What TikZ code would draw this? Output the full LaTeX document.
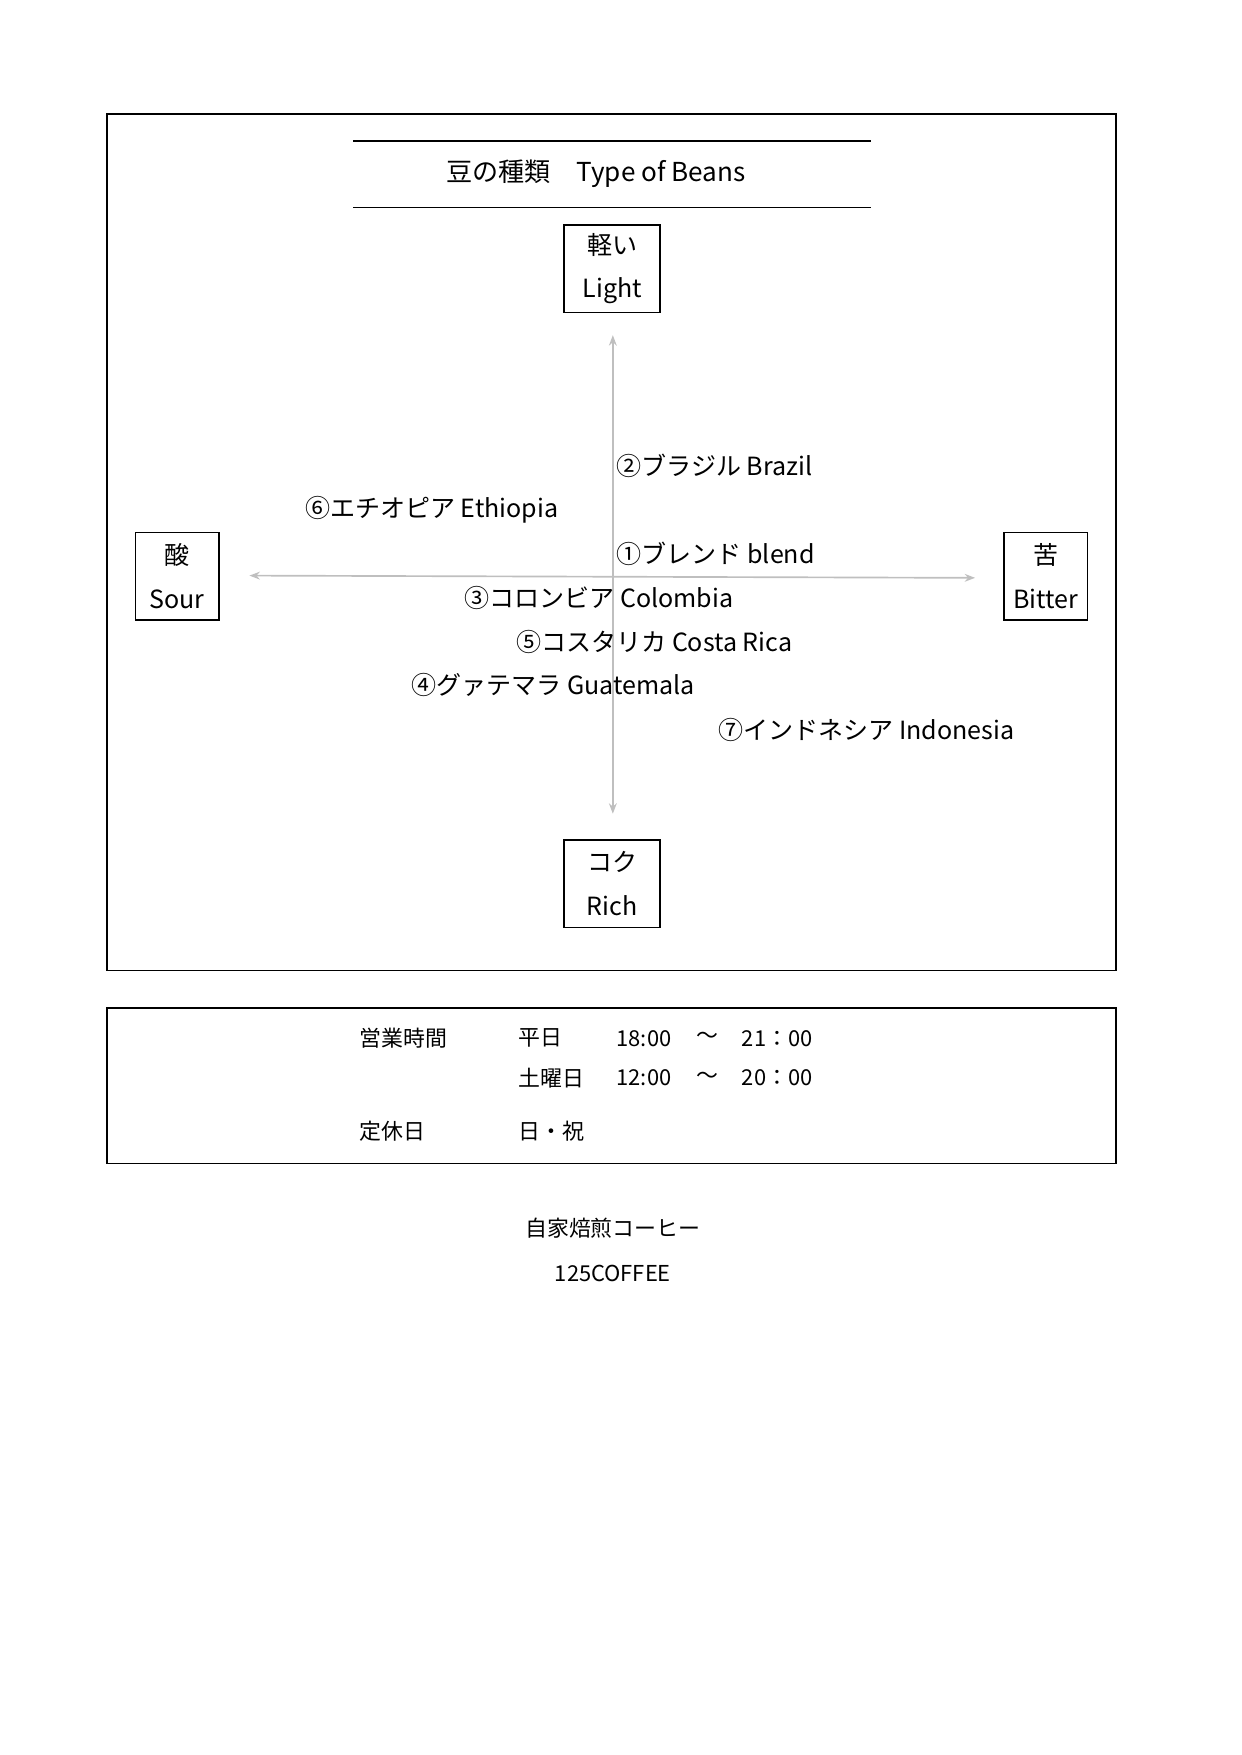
\documentclass[tikz,border=0pt]{standalone}
\usepackage{fontspec}
\setmainfont{Noto Sans CJK JP}
\usetikzlibrary{arrows.meta}
\tikzset{
  axisbox/.style={draw,thick,minimum width=46pt,minimum height=42pt,align=center,inner sep=1pt,font=\fontsize{12}{21}\selectfont},
  bean/.style={anchor=west,inner sep=0pt,font=\fontsize{12}{14}\selectfont},
  info/.style={anchor=west,inner sep=0pt,font=\fontsize{10.5}{12}\selectfont},
  axis/.style={draw=black!25,thick,{Stealth[length=5pt]}-{Stealth[length=5pt]}}
}
\begin{document}
\begin{tikzpicture}[x=0.541pt,y=-0.541pt]
    \useasboundingbox (0,0) rectangle (1100,1555);
    % frames
    \draw[thick] (95,101) rectangle (989,860);
    \draw[thick] (95,893) rectangle (989,1031);
    \draw[thick] (313,125) -- (772,125);
    \draw[thick] (313,184) -- (772,184);
    \node[font=\fontsize{12.5}{14}\selectfont] (title) at (528,154) {豆の種類　Type of Beans};
    % axis boxes
    \node[axisbox] (light) at (542.5,238) {軽い\\Light};
    \node[axisbox] (rich) at (542.5,783) {コク\\Rich};
    \node[axisbox,minimum width=40pt] (sour) at (157,510.5) {酸\\Sour};
    \node[axisbox,minimum width=40pt] (bitter) at (926.5,510.5) {苦\\Bitter};
    \coordinate (top) at (543,297);
    \coordinate (bottom) at (543,721);
    \coordinate (left) at (221,510);
    \coordinate (right) at (864,512);
    \draw[axis] (top) -- (bottom);
    \draw[axis] (left) -- (right);
    % beans
    \node[bean] (brazil) at (546,413) {②ブラジル Brazil};
    \node[bean] (ethiopia) at (270,452) {⑥エチオピア Ethiopia};
    \node[bean] (blend) at (546,491) {①ブレンド blend};
    \node[bean] (colombia) at (411,530) {③コロンビア Colombia};
    \node[bean] (costa) at (457,569) {⑤コスタリカ Costa Rica};
    \node[bean] (guate) at (364,607) {④グァテマラ Guatemala};
    \node[bean] (indo) at (636,647) {⑦インドネシア Indonesia};
    % hours
    \node[info] (hours) at (318,920) {営業時間};
    \node[info] (weekday) at (459,920) {平日};
    \node[info] (wdopen) at (546,920) {18:00};
    \node[info] (wdtilde) at (617,920) {〜};
    \node[info] (wdclose) at (657,920) {21：00};
    \node[info] (sat) at (459,955) {土曜日};
    \node[info] (satopen) at (546,955) {12:00};
    \node[info] (sattilde) at (617,955) {〜};
    \node[info] (satclose) at (657,955) {20：00};
    \node[info] (closed) at (318,1002) {定休日};
    \node[info] (holidays) at (459,1002) {日・祝};
    % footer
    \node[font=\fontsize{10.5}{12}\selectfont] (roast) at (543,1088) {自家焙煎コーヒー};
    \node[font=\fontsize{10.5}{12}\selectfont] (shop) at (543,1128) {125COFFEE};
\end{tikzpicture}
\end{document}
